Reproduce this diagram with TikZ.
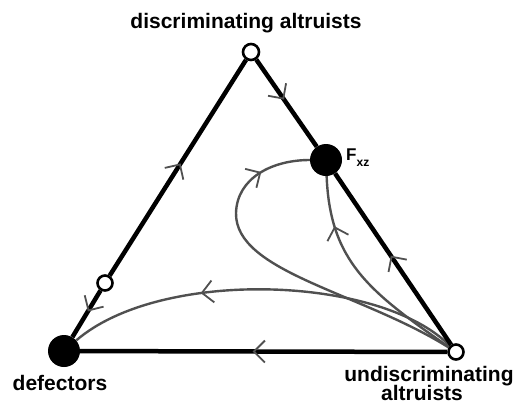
\documentclass[tikz,border=0pt]{standalone}
\usepackage{fontspec}
\setmainfont{Liberation Sans}
\usetikzlibrary{arrows.meta,decorations.markings}
\definecolor{flowgray}{HTML}{505050}
\pgfdeclarelayer{bg}
\pgfsetlayers{bg,main}
\tikzset{
  edge/.style={line width=4.5pt, black},
  flow/.style={line width=2.4pt, draw=flowgray},
  amark/.style={postaction={decorate, decoration={markings, mark=at position #1 with {\arrow[flowgray, line width=1.8pt]{Straight Barb[length=11pt,width=22pt]}}}}},
  filldot/.style={circle, fill=black, minimum size=32pt, inner sep=0pt},
  opendot/.style={circle, draw=black, fill=white, line width=2.6pt, minimum size=#1, inner sep=0pt},
  lab/.style={font=\bfseries\fontsize{21}{21}\selectfont, anchor=base}
}
\begin{document}
\begin{tikzpicture}[x=1pt,y=-1pt]
\useasboundingbox (0,0) rectangle (519,408);
\node[opendot=16pt] (T) at (251,52) {};
\node[opendot=15pt] (O) at (105,283) {};
\node[opendot=15pt] (R) at (456,352) {};
\node[filldot] (L) at (64,351) {};
\node[filldot] (F) at (326,160) {};
\begin{pgfonlayer}{bg}
\draw[flow, amark=0.66] (R) .. controls (380,275) and (160,268) .. (L);
\draw[flow, amark=0.86] (R) .. controls (360,292) and (235,272) .. (236,213) .. controls (237,178) and (272,160) .. (F);
\draw[flow, amark=0.77] (R) .. controls (370,292) and (330,262) .. (F);
\draw[edge, amark=0.46] (T) -- (F);
\draw[edge, amark=0.52] (R) -- (F);
\draw[edge, amark=0.53] (R) -- (L);
\draw[edge, amark=0.52] (O) -- (T);
\draw[edge, amark=0.45] (O) -- (L);
\end{pgfonlayer}
\node[lab] (tl) at (246,28) {discriminating altruists};
\node[lab] (dl) at (60,390) {defectors};
\node[lab] (ul1) at (429,381) {undiscriminating};
\node[lab] (ul2) at (422,400) {altruists};
\node[anchor=base west, inner sep=0pt, font=\bfseries\fontsize{17}{17}\selectfont] (fl) at (346,160) {F\raisebox{-6pt}{\fontsize{12}{12}\selectfont xz}};
\end{tikzpicture}
\end{document}
